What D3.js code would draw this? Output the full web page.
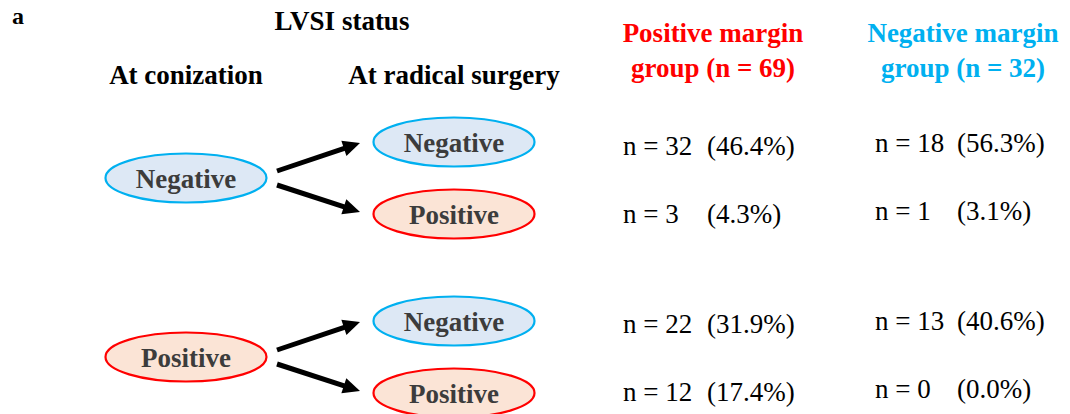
<!DOCTYPE html>
<html><head><meta charset="utf-8">
<script src="https://cdn.jsdelivr.net/npm/d3@7"></script>
<style>html,body{margin:0;padding:0;background:#fff;}svg{display:block;}</style>
</head><body>
<svg id="chart" width="1070" height="414"></svg>
<script>
// ---- data ----
const conizationStatus = ["Negative", "Positive"];
const surgeryStatus = ["Negative", "Positive"];
const groups = ["Positive margin", "Negative margin"];
const groupN = [69, 32];
const posMarginCounts = [32, 3, 22, 12];
const posMarginPct = ["46.4%", "4.3%", "31.9%", "17.4%"];
const negMarginCounts = [18, 1, 13, 0];
const negMarginPct = ["56.3%", "3.1%", "40.6%", "0.0%"];

// ---- style ----
const RED = "#ff0000", BLUE = "#00b0f0";
const fillFor = {Negative: "#dde8f5", Positive: "#fbe4d6"};
const strokeFor = {Negative: BLUE, Positive: RED};
const serif = "'Liberation Serif','Times New Roman',serif";
const svg = d3.select("#chart");

// scales
const xCol = d3.scalePoint().domain(["conization", "surgery"]).range([186, 454]);
const yGroup = d3.scaleLinear().domain([0, 1]).range([178, 357]);   // conization centres
const subOffset = d3.scalePoint().domain(surgeryStatus).range([-36, 36]);
const yText = d3.scaleLinear().domain([0, 1]).range([155, 333]);
const subText = d3.scalePoint().domain(surgeryStatus).range([0, 67.5]);
const xGroupCol = d3.scalePoint().domain(groups).range([713, 963]);
const xCount = d3.scalePoint().domain(groups).range([623, 875]);
const xPct = d3.scalePoint().domain(groups).range([707, 957]);

// titles
svg.append("text").attr("x", 12).attr("y", 24).text("a")
  .attr("font-family", serif).attr("font-weight", "bold").attr("font-size", 24).attr("fill", "#000");
svg.append("text").attr("x", 342).attr("y", 30).attr("text-anchor", "middle").text("LVSI status")
  .attr("font-family", serif).attr("font-weight", "bold").attr("font-size", 27).attr("fill", "#000");
svg.append("text").attr("x", xCol("conization")).attr("y", 84).attr("text-anchor", "middle").text("At conization")
  .attr("font-family", serif).attr("font-weight", "bold").attr("font-size", 27).attr("fill", "#000");
svg.append("text").attr("x", xCol("surgery")).attr("y", 84).attr("text-anchor", "middle").text("At radical surgery")
  .attr("font-family", serif).attr("font-weight", "bold").attr("font-size", 27).attr("fill", "#000");

groups.forEach((g, i) => {
  const t = svg.append("text").attr("text-anchor", "middle")
    .attr("font-family", serif).attr("font-weight", "bold").attr("font-size", 27)
    .attr("fill", i === 0 ? RED : BLUE);
  t.append("tspan").attr("x", xGroupCol(g)).attr("y", 42).text(g);
  t.append("tspan").attr("x", xGroupCol(g)).attr("y", 77).text(`group (n = ${groupN[i]})`);
});

function ellipse(cx, cy, label) {
  svg.append("ellipse").attr("cx", cx).attr("cy", cy).attr("rx", 80.5).attr("ry", 24.5)
    .attr("fill", fillFor[label]).attr("stroke", strokeFor[label]).attr("stroke-width", 2.2);
  svg.append("text").attr("x", cx).attr("y", cy + 9.5).attr("text-anchor", "middle").text(label)
    .attr("font-family", serif).attr("font-weight", "bold").attr("font-size", 27).attr("fill", "#3c3c3c");
}

function arrow(x1, y1, x2, y2) {
  const dx = x2 - x1, dy = y2 - y1, L = Math.hypot(dx, dy);
  const ux = dx / L, uy = dy / L, head = 17, hw = 8;
  const bx = x2 - ux * head, by = y2 - uy * head;
  svg.append("line").attr("x1", x1).attr("y1", y1).attr("x2", bx + ux * 2).attr("y2", by + uy * 2)
    .attr("stroke", "#000").attr("stroke-width", 5);
  svg.append("path").attr("d", d3.line()([[x2, y2], [bx - uy * hw, by + ux * hw], [bx + uy * hw, by - ux * hw]]) + "Z")
    .attr("fill", "#000");
}

conizationStatus.forEach((c, gi) => {
  const cy = yGroup(gi);
  surgeryStatus.forEach((s, si) => {
    const sy = cy + subOffset(s);
    arrow(277, cy + (si === 0 ? -7 : 7), 360, sy + (si === 0 ? 1 : -2));
    ellipse(xCol("surgery"), sy, s);
    const row = gi * 2 + si;
    const ty = yText(gi) + subText(s);
    [[posMarginCounts, posMarginPct, 0], [negMarginCounts, negMarginPct, -3]].forEach(([cnt, pct, off], k) => {
      const g = groups[k];
      svg.append("text").attr("x", xCount(g)).attr("y", ty + off).text(`n = ${cnt[row]}`)
        .attr("font-family", serif).attr("font-size", 27).attr("fill", "#000");
      svg.append("text").attr("x", xPct(g)).attr("y", ty + off).text(`(${pct[row]})`)
        .attr("font-family", serif).attr("font-size", 27).attr("fill", "#000");
    });
  });
  ellipse(xCol("conization"), cy, c);
});
</script>
</body></html>
